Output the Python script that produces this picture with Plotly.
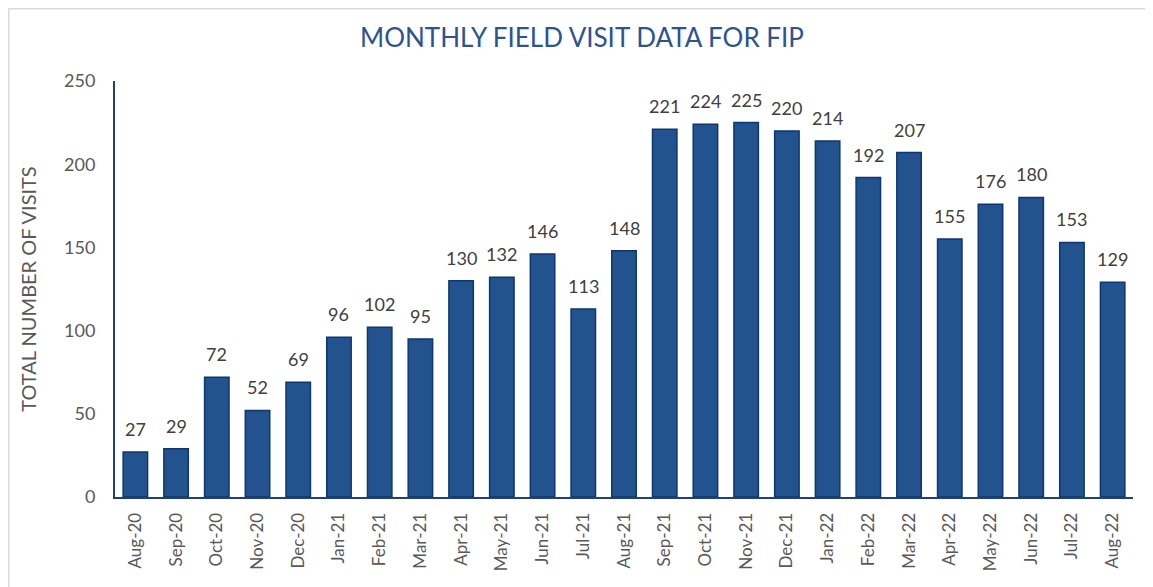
import plotly.graph_objects as go

months = ["Aug-20", "Sep-20", "Oct-20", "Nov-20", "Dec-20", "Jan-21", "Feb-21", "Mar-21",
          "Apr-21", "May-21", "Jun-21", "Jul-21", "Aug-21", "Sep-21", "Oct-21", "Nov-21",
          "Dec-21", "Jan-22", "Feb-22", "Mar-22", "Apr-22", "May-22", "Jun-22", "Jul-22", "Aug-22"]
visits = [27, 29, 72, 52, 69, 96, 102, 95, 130, 132, 146, 113, 148, 221, 224, 225,
          220, 214, 192, 207, 155, 176, 180, 153, 129]
y_ticks = [0, 50, 100, 150, 200, 250]

# page body has an 8px margin, so the figure is 8px smaller and shifted
W, H = 1145, 579
ML, MR, MT, MB = 107, 20, 73, 90
PW = W - ML - MR
PH = H - MT - MB

def px_x(p):
    return (p - ML) / PW

def px_y(p):
    return (H - MB - p) / PH

font_family = "Lato, 'Open Sans', sans-serif"

fig = go.Figure(go.Bar(
    x=months,
    y=visits,
    marker=dict(color="#22538F", line=dict(color="#0D3672", width=1.5)),
    cliponaxis=False,
    hovertemplate="%{x}: %{y}<extra></extra>",
))

annotations = [
    dict(x=m, y=v, xref="x", yref="y", text=str(v), showarrow=False,
         yanchor="bottom", xanchor="center", yshift=10,
         font=dict(size=18, color="#404040", family=font_family))
    for m, v in zip(months, visits)
]

fig.update_layout(
    width=W, height=H,
    margin=dict(l=ML, r=MR, t=MT, b=MB, autoexpand=False),
    paper_bgcolor="white",
    plot_bgcolor="white",
    bargap=0.4,
    showlegend=False,
    annotations=annotations,
    title=dict(text="MONTHLY FIELD VISIT DATA FOR FIP", x=574 / W, xanchor="center",
               y=1 - 30 / H, yanchor="middle",
               font=dict(size=26, color="#2B5491", family=font_family)),
    xaxis=dict(
        automargin=False,
        showline=True, linecolor="#1F3F7F", linewidth=2,
        tickangle=-90, ticks="", showgrid=False,
        ticklabelstandoff=7,
        tickfont=dict(size=17, color="#595959", family=font_family),
        range=[-0.5, len(months) - 0.5],
    ),
    yaxis=dict(
        automargin=False,
        range=[0, 250], tickvals=y_ticks, showgrid=False, zeroline=False,
        showline=True, linecolor="#1F3F7F", linewidth=2, ticks="",
        ticklabelstandoff=14,
        tickfont=dict(size=18, color="#595959", family=font_family),
        title=dict(text="TOTAL NUMBER OF VISITS", standoff=22,
                   font=dict(size=20, color="#595959", family=font_family)),
    ),
    shapes=[
        dict(type="line", xref="paper", yref="paper",
             x0=px_x(0), x1=px_x(W + 5), y0=px_y(0.5), y1=px_y(0.5),
             line=dict(color="#D9D9D9", width=2)),
        dict(type="line", xref="paper", yref="paper",
             x0=px_x(0.5), x1=px_x(0.5), y0=px_y(0), y1=px_y(H + 5),
             line=dict(color="#D9D9D9", width=2)),
    ],
)

fig.write_html("out.html")
